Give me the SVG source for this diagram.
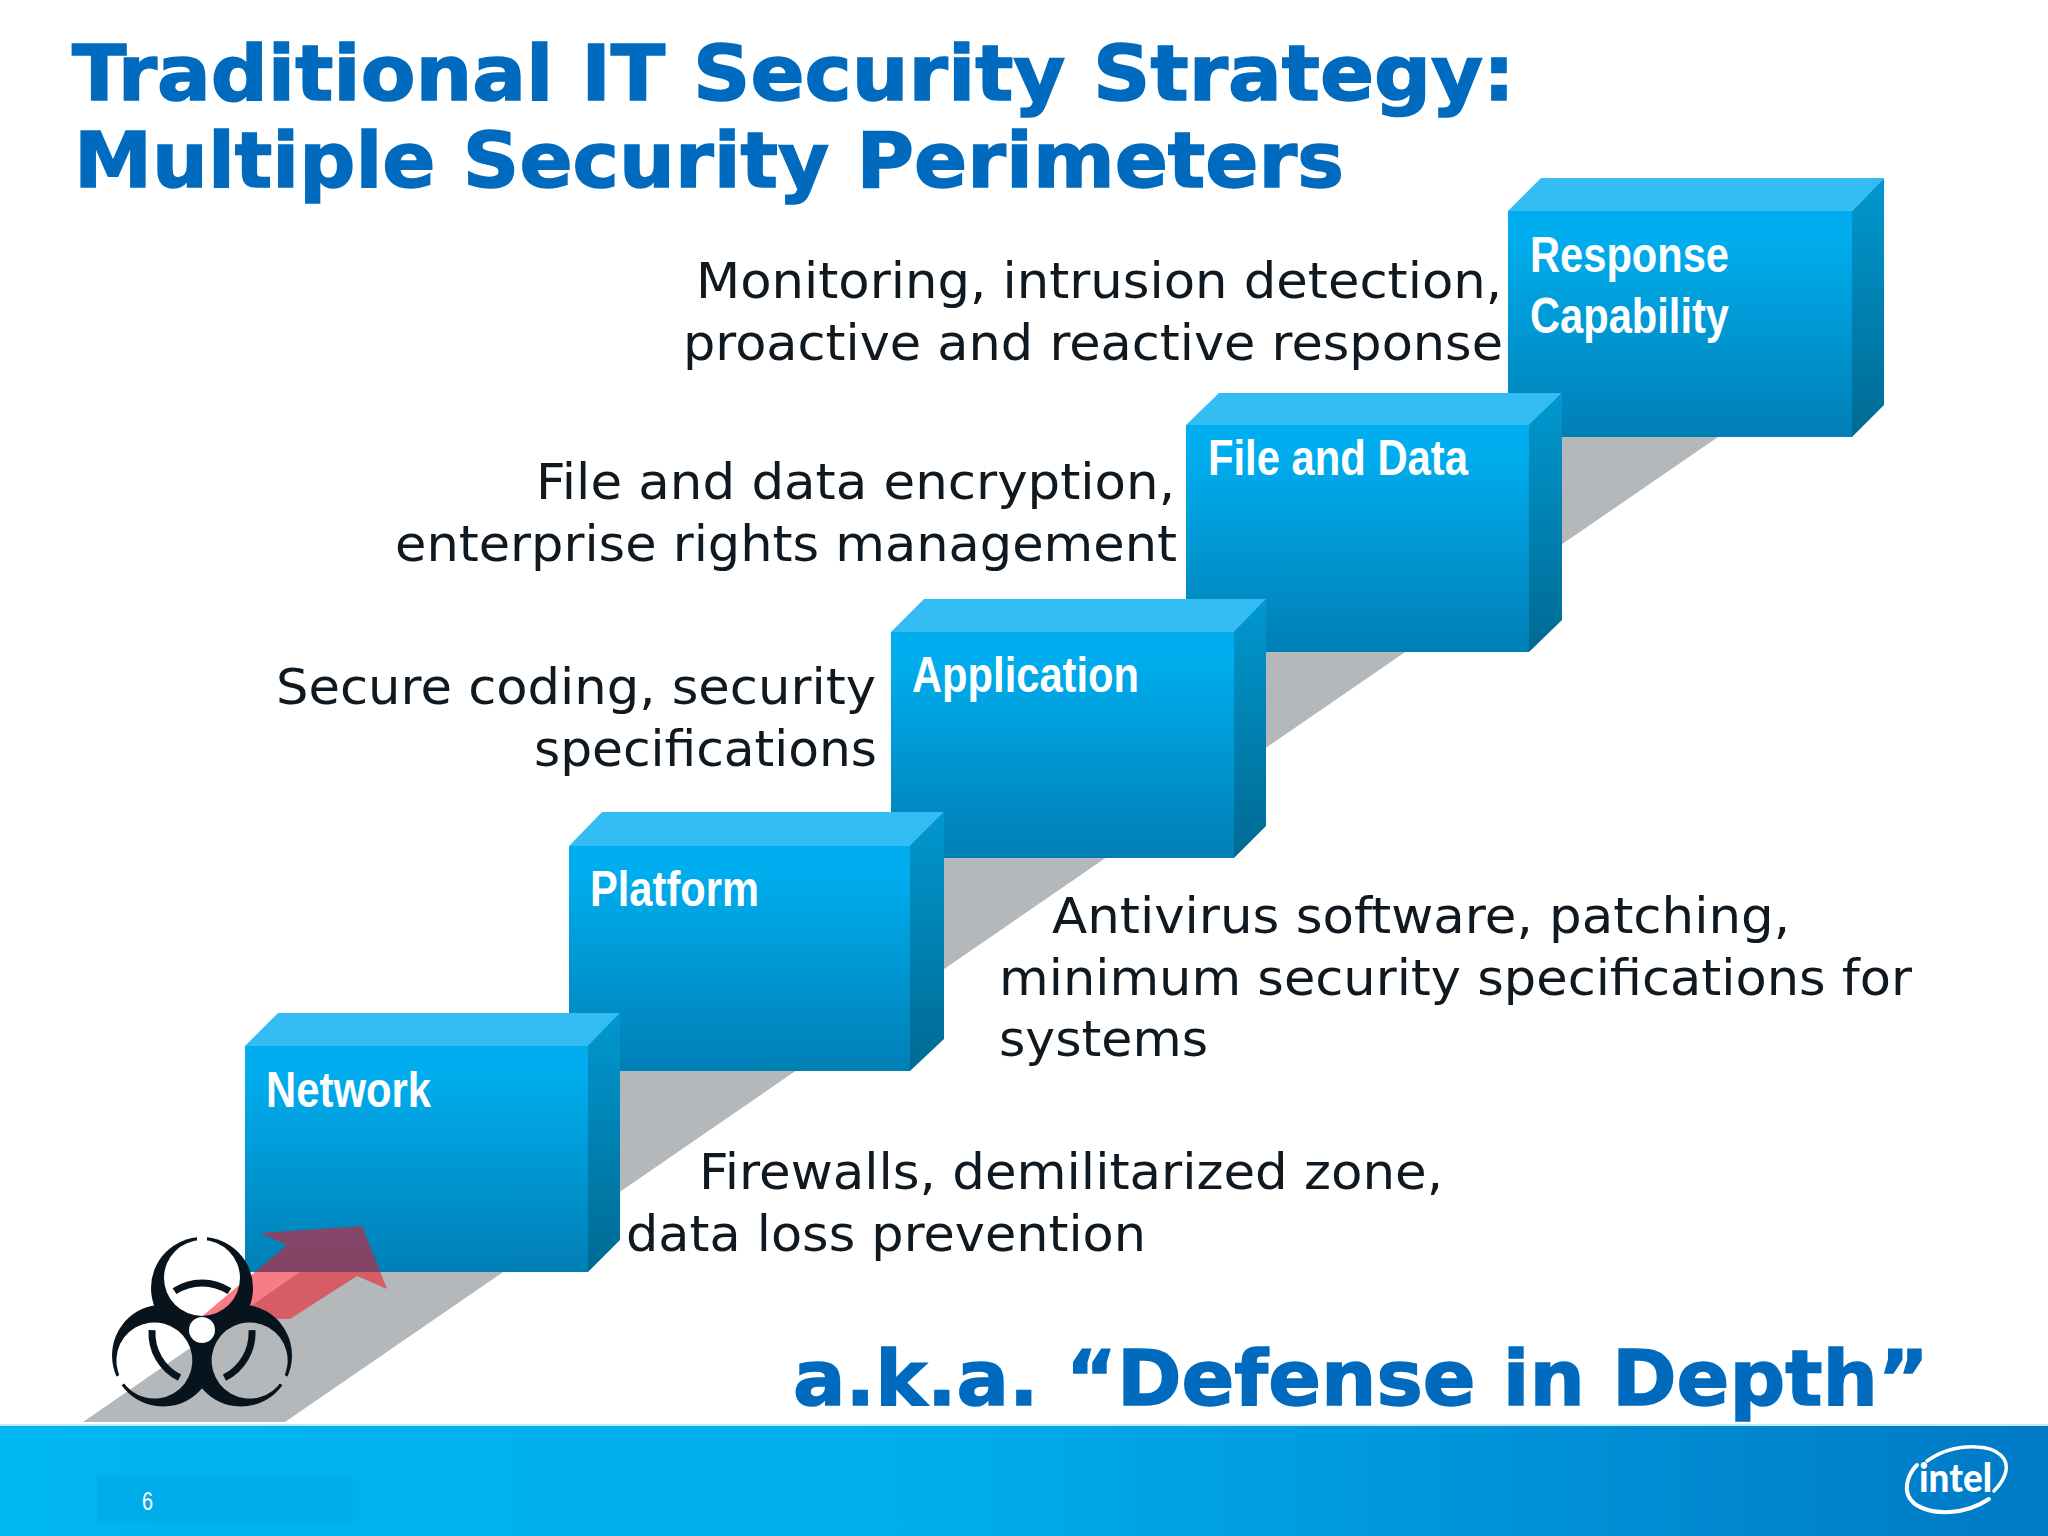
<svg xmlns="http://www.w3.org/2000/svg" width="2048" height="1536" viewBox="0 0 2048 1536">
<style>
.title{font:bold 76px "DejaVu Sans",Verdana,sans-serif;fill:#006bbe;stroke:#006bbe;stroke-width:1.5px}
.body{font:50px "DejaVu Sans",Verdana,sans-serif;fill:#101820}
.end{text-anchor:end}
.lbl{font:bold 50px "Liberation Sans",Arial,sans-serif;fill:#fff}
.front{fill:url(#gf)}.top{fill:#33bdf3}.side{fill:url(#gs)}
.hz{fill:#08141d}
</style>
<defs>
<linearGradient id="gf" x1="0" y1="0" x2="0" y2="1"><stop offset="0.1" stop-color="#00aeef"/><stop offset="1" stop-color="#007fb5"/></linearGradient>
<linearGradient id="gs" x1="0" y1="0" x2="0" y2="1"><stop offset="0" stop-color="#0098cf"/><stop offset="1" stop-color="#006a94"/></linearGradient>
<linearGradient id="gb" x1="0" y1="0" x2="1" y2="0"><stop offset="0" stop-color="#00b6f1"/><stop offset="0.45" stop-color="#00aeec"/><stop offset="1" stop-color="#0079c6"/></linearGradient>
<mask id="hz" maskUnits="userSpaceOnUse" x="90" y="1220" width="230" height="200">
<rect x="90" y="1220" width="230" height="200" fill="#fff"/>
<g id="hzholes" fill="#000">
<g id="hz1"><circle cx="202" cy="1278" r="38"/><rect x="197" y="1230" width="10" height="20"/></g>
<use href="#hz1" transform="rotate(120 202 1333)"/>
<use href="#hz1" transform="rotate(240 202 1333)"/>
</g>
</mask>
</defs>
<rect width="2048" height="1536" fill="#fff"/>
<polygon id="shadow" points="83,1422 285,1422 1718,437 1508,437" fill="#b5b8bb"/>
<rect id="footer" x="0" y="1424" width="2048" height="112" fill="url(#gb)"/>
<rect x="0" y="1424" width="2048" height="2" fill="#bfeafa"/>
<rect id="slot" x="97" y="1475" width="256" height="48" fill="#00acea"/>
<text x="142" y="1510" font-family="'Liberation Sans',Arial,sans-serif" font-size="25" fill="#fff" textLength="11" lengthAdjust="spacingAndGlyphs">6</text>

<g id="node-response">
<polygon class="top" points="1508,211 1541,178 1884,178 1852,211"/>
<polygon class="side" points="1852,211 1884,178 1884,405 1852,437"/>
<rect class="front" x="1508" y="211" width="344" height="226"/>
<text class="lbl" x="1530" y="272" textLength="199" lengthAdjust="spacingAndGlyphs">Response</text>
<text class="lbl" x="1530" y="333" textLength="199" lengthAdjust="spacingAndGlyphs">Capability</text>
</g>
<g id="node-file">
<polygon class="top" points="1186,425 1219,393 1562,393 1529,425"/>
<polygon class="side" points="1529,425 1562,393 1562,620 1529,652"/>
<rect class="front" x="1186" y="425" width="343" height="227"/>
<text class="lbl" x="1208" y="475" textLength="260" lengthAdjust="spacingAndGlyphs">File and Data</text>
</g>
<g id="node-application">
<polygon class="top" points="891,632 924,599 1266,599 1234,632"/>
<polygon class="side" points="1234,632 1266,599 1266,826 1234,858"/>
<rect class="front" x="891" y="632" width="343" height="226"/>
<text class="lbl" x="912" y="692" textLength="227" lengthAdjust="spacingAndGlyphs">Application</text>
</g>
<g id="node-platform">
<polygon class="top" points="569,846 602,812 944,812 910,846"/>
<polygon class="side" points="910,846 944,812 944,1039 910,1071"/>
<rect class="front" x="569" y="846" width="341" height="225"/>
<text class="lbl" x="590" y="906" textLength="169" lengthAdjust="spacingAndGlyphs">Platform</text>
</g>
<g id="node-network">
<polygon class="top" points="245,1046 278,1013 620,1013 588,1046"/>
<polygon class="side" points="588,1046 620,1013 620,1240 588,1272"/>
<rect class="front" x="245" y="1046" width="343" height="226"/>
<text class="lbl" x="266" y="1107" textLength="165" lengthAdjust="spacingAndGlyphs">Network</text>
</g>

<text class="title" x="72" y="100" textLength="1443" lengthAdjust="spacingAndGlyphs">Traditional IT Security Strategy:</text>
<text class="title" x="74" y="187" textLength="1270" lengthAdjust="spacingAndGlyphs">Multiple Security Perimeters</text>
<text class="body end" x="1502" y="298" textLength="806" lengthAdjust="spacingAndGlyphs">Monitoring, intrusion detection,</text>
<text class="body end" x="1503" y="360" textLength="820" lengthAdjust="spacingAndGlyphs">proactive and reactive response</text>
<text class="body end" x="1175" y="499" textLength="639" lengthAdjust="spacingAndGlyphs">File and data encryption,</text>
<text class="body end" x="1177" y="561" textLength="782" lengthAdjust="spacingAndGlyphs">enterprise rights management</text>
<text class="body end" x="876" y="704" textLength="600" lengthAdjust="spacingAndGlyphs">Secure coding, security</text>
<text class="body end" x="877" y="766" textLength="343" lengthAdjust="spacingAndGlyphs">specifications</text>
<text class="body" x="1052" y="933" textLength="738" lengthAdjust="spacingAndGlyphs">Antivirus software, patching,</text>
<text class="body" x="999" y="995" textLength="913" lengthAdjust="spacingAndGlyphs">minimum security specifications for</text>
<text class="body" x="999" y="1056" textLength="209" lengthAdjust="spacingAndGlyphs">systems</text>
<text class="body" x="699" y="1189" textLength="744" lengthAdjust="spacingAndGlyphs">Firewalls, demilitarized zone,</text>
<text class="body" x="626" y="1251" textLength="520" lengthAdjust="spacingAndGlyphs">data loss prevention</text>
<text class="title" x="793" y="1405" textLength="1136" lengthAdjust="spacingAndGlyphs">a.k.a. “Defense in Depth”</text>

<polygon id="threat-arrow" points="260,1233 362,1226 387,1289 357,1276 290,1319 200,1318 287,1245" fill="#f01020" fill-opacity="0.55"/>
<g id="biohazard">
<g mask="url(#hz)">
<circle class="hz" cx="202" cy="1288" r="51"/>
<circle class="hz" cx="202" cy="1288" r="51" transform="rotate(120 202 1333)"/>
<circle class="hz" cx="202" cy="1288" r="51" transform="rotate(240 202 1333)"/>
</g>
<g fill="none" stroke="#08141d" stroke-width="7">
<path id="hzarc" d="M174.500 1291.200A50 50 0 0 1 229.500 1291.200"/>
<use href="#hzarc" transform="rotate(120 202 1333)"/>
<use href="#hzarc" transform="rotate(240 202 1333)"/>
</g>
<circle cx="202" cy="1330" r="13" fill="#fdfdfd"/>
</g>
<g id="intel-logo">
<g fill="none" stroke="#fff" stroke-linecap="round">
<path d="M1927 1461C1945 1448 1965 1446 1977 1447C2000 1448 2008 1460 2006 1471C2004 1480 1999 1486 1994 1491" stroke-width="3.500"/>
<path d="M1917 1465C1908 1474 1905 1486 1908 1495C1913 1508 1932 1513 1950 1512C1966 1511 1980 1505 1989 1499" stroke-width="4"/>
</g>
<text x="1919" y="1492" font-family="Lato,'Open Sans',sans-serif" font-weight="900" font-size="40" fill="#fff" textLength="73" lengthAdjust="spacingAndGlyphs">intel</text>
</g>
</svg>
